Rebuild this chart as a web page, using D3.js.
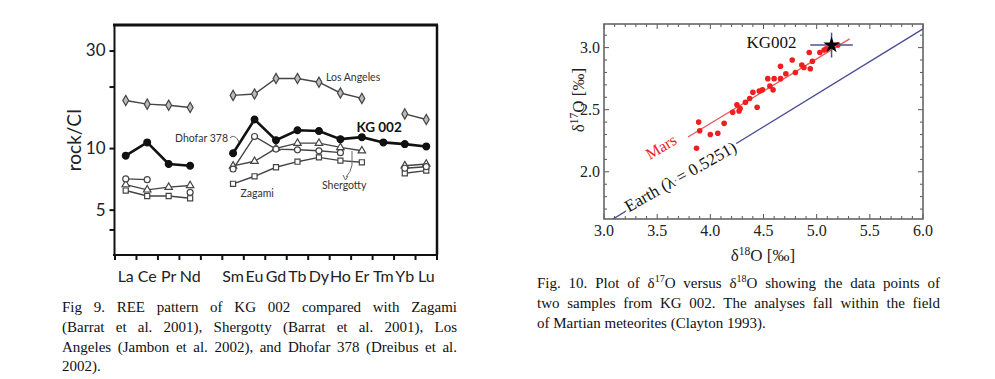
<!DOCTYPE html>
<html><head><meta charset="utf-8">
<script src="https://cdn.jsdelivr.net/npm/d3@7"></script>
<style>body{margin:0;background:#fff}svg{display:block}</style>
</head><body>
<svg id="c" width="995" height="379"></svg>
<script>
// ---------- Fig 9 data (REE, rock/CI) ----------
const ree = ["La","Ce","Pr","Nd","Pm","Sm","Eu","Gd","Tb","Dy","Ho","Er","Tm","Yb","Lu"];
const reeLabels = ["La","Ce","Pr","Nd","","Sm","Eu","Gd","Tb","Dy","Ho","Er","Tm","Yb","Lu"];
const losAngeles = [17.1,16.4,16.2,15.8,null,18.1,18.4,21.9,21.9,21.0,18.6,17.5,null,14.7,13.8];
const kg002      = [9.18,10.66,8.36,8.2,null,9.44,13.8,10.94,12.23,12.13,11.06,11.31,10.66,10.46,10.19];
const dhofar378  = [7.07,7.01,null,6.07,null,7.9,11.4,9.89,9.81,9.70,9.5,null,null,7.97,8.11];
const shergotty  = [6.63,6.25,6.44,6.56,null,8.18,8.62,9.97,10.57,10.57,10.08,9.70,null,8.2,8.36];
const zagami     = [6.20,5.83,5.83,5.68,null,6.69,7.28,8.06,8.58,9.01,8.68,8.52,null,7.53,7.76];
const reeYTicks  = [4,5,10,20,30];
const reeYLabels = [5,10,30];

// ---------- Fig 10 data (oxygen isotopes) ----------
const d18O = [3.89,3.90,4.00,4.07,3.87,4.13,4.21,4.25,4.28,4.27,4.33,4.37,4.40,4.44,4.46,4.49,4.56,4.54,4.60,4.59,4.66,4.66,4.71,4.77,4.80,4.86,4.88,4.94,4.96,4.93,5.03,5.07,5.09,5.20];
const d17O = [2.40,2.33,2.30,2.31,2.19,2.39,2.48,2.54,2.51,2.49,2.56,2.59,2.64,2.52,2.65,2.66,2.69,2.75,2.75,2.66,2.75,2.85,2.79,2.90,2.80,2.86,2.84,2.83,2.89,2.96,2.96,2.98,2.99,3.02];
const kgPoint = [5.14, 3.02];
const kgErr = [0.2, 0.1];
const marsLine = [[3.79,2.28],[5.31,3.07]];
const earthLambda = 0.5251;
const o18Ticks = [3.0,3.5,4.0,4.5,5.0,5.5,6.0];
const o17Ticks = [2.0,2.5,3.0];

const caption9 = ["Fig 9. REE pattern of KG 002 compared with Zagami",
  "(Barrat et al. 2001), Shergotty (Barrat et al. 2001), Los",
  "Angeles (Jambon et al. 2002), and Dhofar 378 (Dreibus et al.",
  "2002)."];
const caption10 = ["Fig. 10. Plot of δ^17O versus δ^18O showing the data points of",
  "two samples from KG 002. The analyses fall within the field",
  "of Martian meteorites (Clayton 1993)."];

const svg = d3.select("#c");
const SANS = "Lato, 'Open Sans', sans-serif";
const SERIF = "'Liberation Serif', 'DejaVu Serif', serif";

// ================= Fig 9 =================
const x9 = d3.scaleBand().domain(ree).range([115, 437]);
const y9 = d3.scaleLog().domain([3, 40]).range([255, 25]);
const cx9 = c => x9(c) + x9.bandwidth()/2;
const g9 = svg.append("g");

// frame
g9.append("line").attr("x1",113).attr("x2",438).attr("y1",y9(40)).attr("y2",y9(40)).attr("stroke","#111").attr("stroke-width",3);
g9.append("line").attr("x1",437).attr("x2",437).attr("y1",y9(40)).attr("y2",y9(3)).attr("stroke","#111").attr("stroke-width",2.5);

// y axis
const yAx = g9.append("g").attr("transform","translate(114.5,0)")
  .call(d3.axisLeft(y9).tickValues(reeYTicks).tickSize(5).tickFormat(d => reeYLabels.includes(d) ? d : ""));
yAx.select(".domain").attr("stroke","#111").attr("stroke-width",2).attr("d","M0,"+y9(40)+"V"+y9(3));
yAx.selectAll(".tick line").attr("stroke","#111").attr("stroke-width",2);
yAx.selectAll("text").attr("font-family",SANS).attr("font-size",17).attr("fill","#222").attr("x",-9);

// x axis
const xAx = g9.append("g").attr("transform","translate(0,255)");
xAx.append("line").attr("x1",113).attr("x2",438).attr("stroke","#111").attr("stroke-width",2);
const bounds = ree.map(c => x9(c)).concat([x9.range()[1]]);
xAx.selectAll("line.tk").data(bounds).join("line").attr("class","tk")
  .attr("x1",d=>d).attr("x2",d=>d).attr("y1",0).attr("y2",5).attr("stroke","#111").attr("stroke-width",2);
xAx.selectAll("text").data(ree).join("text")
  .attr("x", c => cx9(c)).attr("y", 27)
  .attr("text-anchor","middle").attr("font-family",SANS).attr("font-size",16).attr("fill","#222")
  .text((c,i) => reeLabels[i]);

// y label
g9.append("text").attr("transform","translate(81,140) rotate(-90)").attr("text-anchor","middle")
  .attr("font-family",SANS).attr("font-size",19).attr("fill","#222").text("rock/CI");

const series9 = [
  {name:"Los Angeles", v:losAngeles, sym:d3.symbolDiamond, size:30, fill:"#bbb", stroke:"#444", w:1.4},
  {name:"Zagami", v:zagami, sym:d3.symbolSquare, size:26, fill:"#fff", stroke:"#444", w:1.4},
  {name:"Shergotty", v:shergotty, sym:d3.symbolTriangle, size:24, fill:"#fff", stroke:"#444", w:1.4},
  {name:"Dhofar 378", v:dhofar378, sym:d3.symbolCircle, size:28, fill:"#fff", stroke:"#444", w:1.4},
  {name:"KG 002", v:kg002, sym:d3.symbolCircle, size:36, fill:"#111", stroke:"#111", w:2.6}
];
const line9 = d3.line().defined(d => d.v != null).x(d => cx9(d.c)).y(d => y9(d.v));
series9.forEach(s => {
  const pts = ree.map((c,i) => ({c, v:s.v[i]}));
  g9.append("path").attr("d", line9(pts)).attr("fill","none").attr("stroke",s.stroke).attr("stroke-width",s.w);
  g9.selectAll(null).data(pts.filter(d => d.v != null)).join("path")
    .attr("transform", d => `translate(${cx9(d.c)},${y9(d.v)})`)
    .attr("d", d3.symbol(s.sym, s.size)).attr("fill", s.fill).attr("stroke", s.stroke).attr("stroke-width",1.2);
});

// annotations
const ann = (x,y,t,fs,bold) => g9.append("text").attr("x",x).attr("y",y).attr("font-family",SANS)
  .attr("font-size",fs).attr("font-weight",bold?"bold":"normal").attr("fill",bold?"#111":"#333").text(t);
ann(cx9("Dy")+7, 81, "Los Angeles", 10.5);
ann(cx9("Ho")+16, 132, "KG 002", 13.5, true);
ann(175, 142, "Dhofar 378", 10.5);
ann(cx9("Eu")-14, 197, "Zagami", 10.5);
ann(cx9("Dy")+3, 189, "Shergotty", 10.5);
g9.append("path").attr("d","M230,138 C233,135 236,136 239,142").attr("fill","none").attr("stroke","#555").attr("stroke-width",1);
g9.append("path").attr("d","M352,151 L352,165 Q351,172 346,177").attr("fill","none").attr("stroke","#666").attr("stroke-width",1);
g9.append("path").attr("d","M343,175 L345.5,180 L348,176").attr("fill","none").attr("stroke","#666").attr("stroke-width",1);

// ================= Fig 10 =================
const x10 = d3.scaleLinear().domain([3,6]).range([604,923]);
const y10 = d3.scaleLinear().domain([1.62,3.19]).range([219,24]);
const g10 = svg.append("g");
svg.append("defs").append("clipPath").attr("id","clip10").append("rect")
  .attr("x",604).attr("y",24).attr("width",319).attr("height",195);

// ticks inside
const tickC = "#555";
const minorX = d3.range(30,61).map(d=>d/10), minorY = d3.range(17,32).map(d=>d/10);
minorX.forEach(v => {
  const L = (Math.round(v*10)%5===0) ? 5 : 3;
  [[219,-L],[24,L]].forEach(([yy,dl]) => g10.append("line").attr("x1",x10(v)).attr("x2",x10(v)).attr("y1",yy).attr("y2",yy+dl).attr("stroke",tickC).attr("stroke-width",1));
});
minorY.forEach(v => {
  const L = (Math.round(v*10)%5===0) ? 5 : 3;
  [[604,L],[923,-L]].forEach(([xx,dl]) => g10.append("line").attr("y1",y10(v)).attr("y2",y10(v)).attr("x1",xx).attr("x2",xx+dl).attr("stroke",tickC).attr("stroke-width",1));
});
g10.append("rect").attr("x",604).attr("y",24).attr("width",319).attr("height",195).attr("fill","none").attr("stroke","#666").attr("stroke-width",1.6);

g10.selectAll("text.xt").data(o18Ticks).join("text").attr("class","xt")
  .attr("x",d=>x10(d)).attr("y",236).attr("text-anchor","middle").attr("font-family",SERIF).attr("font-size",16).attr("fill","#222")
  .text(d=>d.toFixed(1));
g10.selectAll("text.yt").data(o17Ticks).join("text").attr("class","yt")
  .attr("x",600).attr("y",d=>y10(d)).attr("dy","0.35em").attr("text-anchor","end").attr("font-family",SERIF).attr("font-size",16).attr("fill","#222")
  .text(d=>d.toFixed(1));

function rich(sel, str, supSize) {
  const parts = str.split(/\^(\d+)/);
  parts.forEach((p,i) => {
    if (!p) return;
    if (i % 2 === 1) sel.append("tspan").attr("font-size", supSize).attr("dy", -6).text(p);
    else sel.append("tspan").attr("dy", i>0 ? 6 : 0).text(p);
  });
  return sel;
}
rich(g10.append("text").attr("x",763).attr("y",261).attr("text-anchor","middle").attr("font-family",SERIF).attr("font-size",17).attr("fill","#222"), "δ^18O [‰]", 11.5);
rich(g10.append("text").attr("transform","translate(584,100) rotate(-90)").attr("text-anchor","middle").attr("font-family",SERIF).attr("font-size",17).attr("fill","#222"), "δ^17O [‰]", 11.5);

const pc = g10.append("g").attr("clip-path","url(#clip10)");
pc.append("line").attr("x1",x10(3)).attr("y1",y10(3*earthLambda)).attr("x2",x10(6)).attr("y2",y10(6*earthLambda))
  .attr("stroke","#4a4f96").attr("stroke-width",1.3);
pc.append("line").attr("x1",x10(marsLine[0][0])).attr("y1",y10(marsLine[0][1])).attr("x2",x10(marsLine[1][0])).attr("y2",y10(marsLine[1][1]))
  .attr("stroke","#f05555").attr("stroke-width",1.3);
pc.selectAll("circle").data(d18O.map((d,i)=>[d,d17O[i]])).join("circle")
  .attr("cx",d=>x10(d[0])).attr("cy",d=>y10(d[1])).attr("r",2.8).attr("fill","#f01e1e");
// error bars
pc.append("line").attr("x1",x10(kgPoint[0]-kgErr[0])).attr("x2",x10(kgPoint[0]+kgErr[0])).attr("y1",y10(kgPoint[1])).attr("y2",y10(kgPoint[1])).attr("stroke","#4a5590").attr("stroke-width",1.5);
pc.append("line").attr("y1",y10(kgPoint[1]-kgErr[1])).attr("y2",y10(kgPoint[1]+kgErr[1])).attr("x1",x10(kgPoint[0])).attr("x2",x10(kgPoint[0])).attr("stroke","#4a5590").attr("stroke-width",1.5);
pc.append("path").attr("transform",`translate(${x10(kgPoint[0])},${y10(kgPoint[1])})`).attr("d",d3.symbol(d3.symbolStar,85)).attr("fill","#000");

g10.append("text").attr("x",x10(4.34)).attr("y",y10(3.0)).attr("font-family",SERIF).attr("font-size",17).attr("fill","#111").text("KG002");
g10.append("text").attr("transform",`translate(${x10(3.43)},${y10(2.095)}) rotate(-31)`).attr("font-family",SERIF).attr("font-size",16).attr("fill","#f02020").text("Mars");
// Earth label sits on the line, masking it with a white halo
const ex = 3.22;
g10.append("text").attr("transform",`translate(${x10(ex)},${y10(ex*earthLambda)}) rotate(-29.5)`).attr("dy","0.15em")
  .attr("font-family",SERIF).attr("font-size",17).attr("fill","#111")
  .attr("stroke","#fff").attr("stroke-width",6).attr("paint-order","stroke").attr("stroke-linejoin","round")
  .text("Earth (λ = 0.5251)");

// ================= captions =================
function captionBlock(lines, x0, x1, y0, dy) {
  const g = svg.append("g").attr("font-family",SERIF).attr("font-size",15).attr("fill","#111");
  lines.forEach((ln, li) => {
    const words = ln.split(" ");
    const els = words.map(w => rich(g.append("text").attr("y", y0 + li*dy), w, 10));
    const widths = els.map(e => e.node().getComputedTextLength());
    const total = d3.sum(widths);
    const last = li === lines.length - 1;
    const gap = last ? 3.75 : (x1 - x0 - total) / (words.length - 1);
    let x = x0;
    els.forEach((e,i) => { e.attr("x", x); x += widths[i] + gap; });
  });
}
captionBlock(caption9, 62, 457, 312, 19.8);
captionBlock(caption10, 537, 940, 288, 20);
</script>
</body></html>
